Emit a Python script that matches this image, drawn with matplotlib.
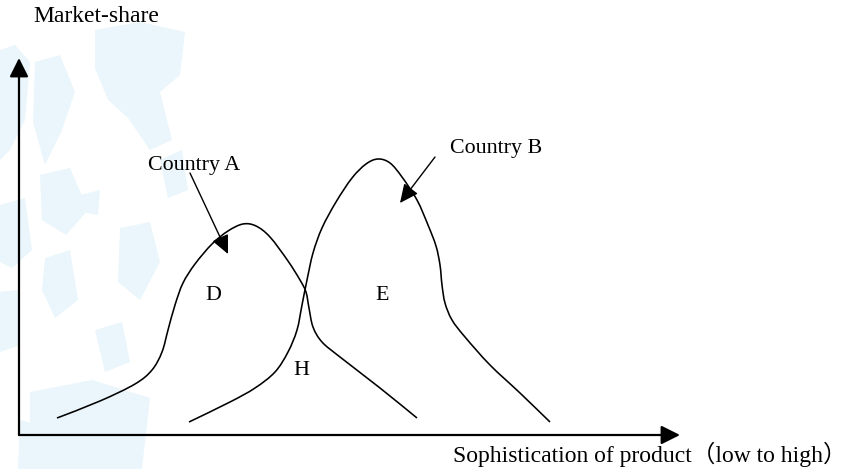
import matplotlib
matplotlib.use("Agg")
import matplotlib.pyplot as plt
from matplotlib.patches import FancyArrowPatch, PathPatch, Polygon
from matplotlib.path import Path

# ---- data (x: sophistication, y: market share; origin at the axes corner) ----
country_a_x = [38, 81, 116, 133, 143, 149, 156, 164, 176, 193, 209, 224, 237, 251, 269, 281,
               287, 290, 294, 303, 321, 361, 398]
country_a_y = [17, 34, 51, 65, 83, 105, 130, 152, 171, 191, 204, 211, 209, 198, 174, 155,
               143, 127, 108, 93, 78, 47, 17]
country_b_x = [170, 211, 236, 256, 269, 278, 283, 288, 294, 303, 317, 333, 347, 359, 371, 383,
               398, 409, 417, 421, 423, 426, 433, 446, 471, 501, 531]
country_b_y = [13, 33, 47, 63, 83, 105, 130, 155, 182, 207, 233, 257, 271, 276, 272, 258,
               235, 210, 189, 170, 150, 132, 115, 98, 70, 42, 13]

region_labels = ["D", "E", "H"]
region_x = [186, 356, 274]
region_y = [135, 135, 60]

series_labels = ["Country A", "Country B"]
label_x = [129, 431]
label_y = [265, 282]
arrow_start = [(171, 262), (416, 278)]
arrow_end = [(209, 181), (381, 232)]

y_axis_label = "Market-share"
x_axis_label = "Sophistication of product（low to high）"
y_axis_end = 377
x_axis_end = 661

FONT = ["Liberation Serif", "Noto Sans CJK SC"]
FS = 15.8
FS_AXIS = 17.0
WATERMARK = "#eaf6fb"


def smooth_path(xs, ys):
    """Catmull-Rom curve through the given points, drawn as cubic Bezier segments."""
    pts = list(zip(xs, ys))
    verts = [pts[0]]
    codes = [Path.MOVETO]
    n = len(pts)
    for i in range(n - 1):
        p0 = pts[i - 1] if i > 0 else pts[i]
        p1 = pts[i]
        p2 = pts[i + 1]
        p3 = pts[i + 2] if i + 2 < n else pts[i + 1]
        c1 = (p1[0] + (p2[0] - p0[0]) / 6.0, p1[1] + (p2[1] - p0[1]) / 6.0)
        c2 = (p2[0] - (p3[0] - p1[0]) / 6.0, p2[1] - (p3[1] - p1[1]) / 6.0)
        verts += [c1, c2, p2]
        codes += [Path.CURVE4] * 3
    return Path(verts, codes)


fig = plt.figure(figsize=(8.46, 4.69), dpi=100)

# faint background watermark (decoration, in pixel space)
bg = fig.add_axes([0, 0, 1, 1])
bg.set_xlim(0, 846)
bg.set_ylim(469, 0)
bg.axis("off")
blobs = [
    [(95, 30), (140, 22), (185, 32), (180, 75), (160, 92), (172, 140), (150, 150), (128, 118), (108, 100), (95, 68)],
    [(0, 50), (15, 45), (30, 62), (25, 120), (10, 150), (0, 160)],
    [(35, 62), (60, 55), (75, 92), (62, 130), (45, 165), (33, 122)],
    [(0, 205), (25, 198), (32, 250), (12, 268), (0, 262)],
    [(0, 292), (18, 290), (20, 345), (0, 352)],
    [(40, 175), (70, 168), (88, 210), (66, 235), (42, 220)],
    [(80, 195), (100, 190), (98, 215), (82, 212)],
    [(120, 228), (150, 222), (160, 262), (140, 300), (118, 282)],
    [(45, 258), (70, 250), (78, 300), (55, 318), (42, 290)],
    [(95, 330), (122, 322), (130, 362), (105, 372)],
    [(30, 392), (92, 380), (150, 398), (142, 469), (30, 469)],
    [(160, 160), (182, 150), (188, 190), (168, 198)],
    [(20, 420), (40, 425), (40, 469), (18, 469)],
]
for b in blobs:
    bg.add_patch(Polygon(b, closed=True, facecolor=WATERMARK, edgecolor="none", zorder=0))

ax = fig.add_axes([0, 0, 1, 1])
ax.set_xlim(-19, 827)
ax.set_ylim(-34, 435)
ax.axis("off")
ax.patch.set_alpha(0)

# axes with arrows
axis_style = "-|>,head_length=0.6,head_width=0.3"
ax.add_patch(FancyArrowPatch((0, 0), (0, y_axis_end), arrowstyle=axis_style, mutation_scale=19,
                             color="black", lw=1.6, shrinkA=0, shrinkB=0))
ax.add_patch(FancyArrowPatch((0, 0), (x_axis_end, 0), arrowstyle=axis_style, mutation_scale=19,
                             color="black", lw=1.6, shrinkA=0, shrinkB=0))

# curves
for xs, ys in [(country_a_x, country_a_y), (country_b_x, country_b_y)]:
    ax.add_patch(PathPatch(smooth_path(xs, ys), facecolor="none", edgecolor="black",
                           lw=1.15, joinstyle="round", capstyle="butt"))

# pointer arrows
for (s, e) in zip(arrow_start, arrow_end):
    ax.add_patch(FancyArrowPatch(s, e, arrowstyle="-|>,head_length=0.6,head_width=0.28",
                                 mutation_scale=19, color="black", lw=1.0, shrinkA=0, shrinkB=0))

# texts
for t, x, y in zip(series_labels, label_x, label_y):
    ax.text(x, y, t, fontsize=FS, family=FONT, ha="left", va="baseline")
for t, x, y in zip(region_labels, region_x, region_y):
    ax.text(x, y, t, fontsize=FS, family=FONT, ha="left", va="baseline")
ax.text(14, 413, y_axis_label, fontsize=FS_AXIS, family=FONT, ha="left", va="baseline")
ax.text(434, -27, x_axis_label, fontsize=FS_AXIS, family=FONT, ha="left", va="baseline")

fig.savefig("out.png", dpi=100)
